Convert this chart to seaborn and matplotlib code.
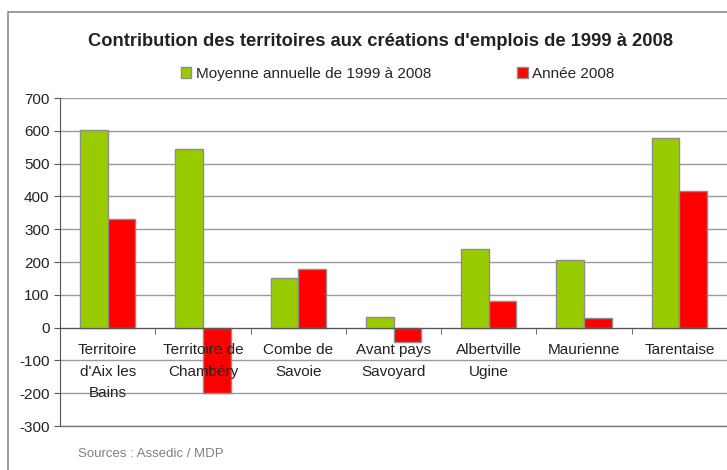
import matplotlib
matplotlib.use("Agg")
import matplotlib.pyplot as plt
import matplotlib.patches as mpatches
import seaborn as sns
import pandas as pd
import numpy as np

territoires = ["Territoire\nd'Aix les\nBains", "Territoire de\nChambéry", "Combe de\nSavoie",
               "Avant pays\nSavoyard", "Albertville\nUgine", "Maurienne", "Tarentaise"]
moyenne = [603, 545, 152, 32, 240, 205, 578]
annee_2008 = [332, -198, 178, -43, 80, 28, 416]
series = ["Moyenne annuelle de 1999 à 2008", "Année 2008"]
couleurs = ["#99CC00", "#FF0000"]
y_ticks = list(range(-300, 701, 100))

data = pd.DataFrame({
    "territoire": territoires * 2,
    "valeur": moyenne + annee_2008,
    "serie": [series[0]] * len(territoires) + [series[1]] * len(territoires),
})

sns.set_style("white")
plt.rcParams["font.family"] = ["Liberation Sans", "DejaVu Sans"]

fig = plt.figure(figsize=(7.27, 4.70), dpi=100)
ax = fig.add_axes([60 / 727, 1 - 426 / 470, 1 - 60 / 727, (426 - 98) / 470])

""" Cadre extérieur """
fig.patches.append(mpatches.Rectangle((8 / 727, -0.05), 1.2, 1 - 12 / 470 + 0.05,
                                      transform=fig.transFigure, fill=False,
                                      edgecolor="#8a8a8a", linewidth=1.2, zorder=0))

sns.barplot(data=data, x="territoire", y="valeur", hue="serie", palette=couleurs,
            width=0.58, edgecolor="#8c8c8c", linewidth=1, saturation=1,
            legend=False, ax=ax, zorder=3)

ax.set_ylim(-300, 700)
ax.set_xlim(-0.5, len(territoires) - 0.5)
ax.set_yticks(y_ticks)
ax.set_yticklabels([str(v) for v in y_ticks], fontsize=11, color="#222222")
ax.yaxis.grid(True, color="#9a9a9a", linewidth=1)
ax.set_axisbelow(True)
ax.axhline(-300, color="#777777", linewidth=1, clip_on=False, zorder=1)
ax.set_xlabel("")
ax.set_ylabel("")

for s in ["top", "right"]:
    ax.spines[s].set_visible(False)
ax.spines["left"].set_color("#555555")
ax.spines["bottom"].set_color("#555555")
ax.spines["bottom"].set_position(("data", 0))
ax.spines["bottom"].set_zorder(4)

ax.tick_params(axis="y", direction="out", length=4, color="#555555", left=True)
ax.set_xticks(range(len(territoires)))
ax.set_xticklabels(territoires, fontsize=11, color="#222222", linespacing=1.7)
ax.tick_params(axis="x", which="major", length=0, pad=11)
ax.set_xticks(np.arange(-0.5, len(territoires), 1), minor=True)
ax.tick_params(axis="x", which="minor", direction="out", length=4, color="#555555", bottom=True)
ax.xaxis.set_zorder(5)

fig.text(0.524, 1 - 42 / 470, "Contribution des territoires aux créations d'emplois de 1999 à 2008",
         ha="center", va="center", fontsize=13.2, fontweight="bold", color="#222222")

poignees = [mpatches.Patch(facecolor=c, edgecolor="#8c8c8c", label=s) for c, s in zip(couleurs, series)]
fig.legend(handles=poignees, loc="center", bbox_to_anchor=(0.547, 1 - 74 / 470), ncol=2,
           frameon=False, fontsize=11,
           handlelength=0.7, handleheight=0.7, handletextpad=0.3, columnspacing=5.6)

fig.text(78 / 727, 1 - 454 / 470, "Sources : Assedic / MDP", ha="left", va="center",
         fontsize=9.5, color="#808080")

fig.savefig("out.png", dpi=100)
